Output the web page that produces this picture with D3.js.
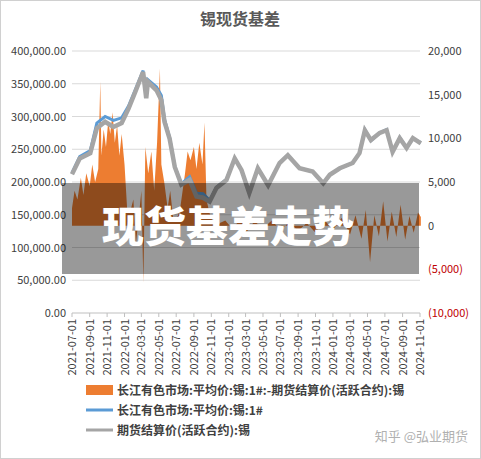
<!DOCTYPE html>
<html><head><meta charset="utf-8">
<script src="https://cdn.jsdelivr.net/npm/d3@7"></script>
<style>body{margin:0;background:#fff;font-family:"Noto Sans CJK SC",sans-serif}</style>
</head><body><svg id="chart"></svg>
<script>
const width = 481, height = 459;
const margin = { top: 51, right: 61, bottom: 146, left: 72 };

// futures settlement price (left axis)
const futDates = ['2021-07-01','2021-07-28','2021-09-03','2021-09-26','2021-10-25','2021-11-23','2021-12-22','2022-01-15','2022-02-08','2022-03-07','2022-03-18','2022-03-24','2022-04-23','2022-05-10','2022-05-21','2022-06-08','2022-06-26','2022-07-19','2022-08-17','2022-09-10','2022-10-03','2022-10-26','2022-11-19','2022-12-24','2023-01-22','2023-02-15','2023-03-14','2023-04-13','2023-05-19','2023-06-28','2023-07-27','2023-09-06','2023-10-22','2023-11-28','2023-12-21','2024-01-25','2024-03-10','2024-04-03','2024-04-22','2024-05-13','2024-06-13','2024-07-07','2024-07-28','2024-08-22','2024-09-15','2024-10-07','2024-11-04'];
const futValues = [212000,236000,244000,282000,292000,284000,290000,312000,338000,368000,328000,353000,340000,325000,292000,266000,223000,196000,203000,178000,176000,170000,191000,203000,236000,218000,183000,221000,195000,229000,241000,221000,216000,198000,211000,221000,229000,244000,279000,264000,275000,279000,246000,267000,252000,267000,259000];
// spot price (left axis)
const spotValues = [214000,239000,248000,290000,300000,294000,298000,316000,341000,370000,330000,356000,345000,332000,296000,268000,224000,197000,208000,183000,182000,172000,192000,204000,236000,218000,183000,221000,195000,229000,241000,221000,216000,198000,211000,221000,229000,244000,280000,263000,275000,280000,246000,268000,252000,266000,260000];

// basis = spot - futures (right axis)
const basisDates = ['2021-07-01','2021-07-10','2021-07-20','2021-08-01','2021-08-10','2021-08-20','2021-09-01','2021-09-10','2021-09-20','2021-10-01','2021-10-08','2021-10-12','2021-10-20','2021-10-28','2021-11-05','2021-11-12','2021-11-20','2021-11-28','2021-12-06','2021-12-14','2021-12-22','2022-01-01','2022-01-10','2022-01-20','2022-02-01','2022-02-10','2022-02-20','2022-03-01','2022-03-08','2022-03-15','2022-03-25','2022-04-05','2022-04-15','2022-04-25','2022-05-05','2022-05-10','2022-05-20','2022-06-01','2022-06-10','2022-06-20','2022-07-01','2022-07-15','2022-08-01','2022-08-10','2022-08-20','2022-09-01','2022-09-10','2022-09-20','2022-10-01','2022-10-08','2022-10-15','2022-10-25','2022-11-05','2022-11-20','2022-12-01','2022-12-20','2023-01-15','2023-02-10','2023-03-05','2023-04-01','2023-05-01','2023-06-01','2023-07-01','2023-08-01','2023-09-01','2023-10-01','2023-11-01','2023-12-01','2024-01-01','2024-02-01','2024-03-01','2024-03-20','2024-04-10','2024-04-25','2024-05-10','2024-05-25','2024-06-10','2024-06-25','2024-07-10','2024-07-25','2024-08-10','2024-08-25','2024-09-10','2024-09-25','2024-10-10','2024-10-25','2024-11-04'];
const basisValues = [2000,4000,3000,5500,3500,6000,4500,7000,5000,6500,16500,8000,11000,9000,12000,10500,13000,9500,11500,8000,10500,7000,2000,1500,3000,-2000,1000,4000,-6500,9000,6000,8500,4000,9500,18000,7000,5000,2000,4000,1000,500,2000,6000,8500,7500,9000,6500,9500,7000,11800,3000,1500,500,-500,300,600,-400,800,-700,500,-300,600,-500,400,-600,300,-800,700,-500,900,-1000,1200,-1500,1800,-4200,1200,-1200,2800,-1800,1600,-1300,2400,-1600,1100,-800,1500,1000];

const xTicks = ['2021-07-01','2021-09-01','2021-11-01','2022-01-01','2022-03-01','2022-05-01','2022-07-01','2022-09-01','2022-11-01','2023-01-01','2023-03-01','2023-05-01','2023-07-01','2023-09-01','2023-11-01','2024-01-01','2024-03-01','2024-05-01','2024-07-01','2024-09-01','2024-11-01'];
const leftTicks = [0,50000,100000,150000,200000,250000,300000,350000,400000];
const rightTicks = [-10000,-5000,0,5000,10000,15000,20000];
const legendLabels = ['长江有色市场:平均价:锡:1#:-期货结算价(活跃合约):锡','长江有色市场:平均价:锡:1#','期货结算价(活跃合约):锡'];

const parse = d3.timeParse('%Y-%m-%d');
const svg = d3.select('#chart').attr('width', width).attr('height', height);

svg.append('rect').attr('x',0.5).attr('y',0.5).attr('width',width-1).attr('height',height-1)
    .attr('fill','#fff').attr('stroke','#d0d0d0');

const x = d3.scaleTime().domain([parse('2021-07-01'), parse('2024-11-01')]).range([margin.left, width - margin.right]);
const yL = d3.scaleLinear().domain([0, 400000]).range([height - margin.bottom, margin.top]);
const yR = d3.scaleLinear().domain([-10000, 20000]).range([height - margin.bottom, margin.top]);

svg.append('text').attr('x', 240).attr('y', 25).attr('text-anchor','middle')
    .style('font-size','16px').style('font-weight','bold').style('fill','#595959').text('锡现货基差');

// grid
svg.append('g').selectAll('line').data(leftTicks.slice(1)).join('line')
    .attr('x1', margin.left).attr('x2', width - margin.right)
    .attr('y1', d => yL(d)).attr('y2', d => yL(d)).attr('stroke','#d9d9d9');

const fmtL = d3.format(',.2f');
svg.append('g').selectAll('text').data(leftTicks).join('text')
    .attr('x', 66).attr('y', d => yL(d) + 4).attr('text-anchor','end')
    .style('font-size','11px').style('fill','#404040').text(d => fmtL(d));

const fmtR = d3.format(',');
svg.append('g').selectAll('text').data(rightTicks).join('text')
    .attr('x', 428).attr('y', d => yR(d) + 4)
    .style('font-size','11px').style('fill', d => d < 0 ? '#c00000' : '#404040')
    .text(d => d < 0 ? `(${fmtR(-d)})` : fmtR(d));

// x axis
const xa = svg.append('g');
xa.append('line').attr('x1', margin.left).attr('x2', width - margin.right)
    .attr('y1', yL(0)).attr('y2', yL(0)).attr('stroke','#bfbfbf');
xa.selectAll('line.t').data(xTicks).join('line').attr('class','t')
    .attr('x1', d => x(parse(d))).attr('x2', d => x(parse(d)))
    .attr('y1', yL(0)).attr('y2', yL(0) + 4).attr('stroke','#bfbfbf');
xa.selectAll('text').data(xTicks).join('text')
    .attr('transform', d => `translate(${x(parse(d)) + 4},${yL(0) + 6}) rotate(-90)`)
    .attr('text-anchor','end').style('font-size','11px').style('fill','#404040').text(d => d);

// basis area
const basis = basisDates.map((d, i) => ({ date: parse(d), v: basisValues[i] }));
svg.append('path').datum(basis).attr('fill','#ED7D31')
    .attr('d', d3.area().x(d => x(d.date)).y0(yR(0)).y1(d => yR(d.v)));

const fut = futDates.map((d, i) => ({ date: parse(d), f: futValues[i], s: spotValues[i] }));
svg.append('path').datum(fut).attr('fill','none').attr('stroke','#5B9BD5').attr('stroke-width',3)
    .attr('d', d3.line().x(d => x(d.date)).y(d => yL(d.s)));
svg.append('path').datum(fut).attr('fill','none').attr('stroke','#A5A5A5').attr('stroke-width',4.5)
    .attr('d', d3.line().x(d => x(d.date)).y(d => yL(d.f)));

// overlay block
svg.append('rect').attr('x', 62).attr('y', 183).attr('width', 357).attr('height', 91)
    .attr('fill','#000').attr('opacity',0.4);
svg.append('text').attr('x', 228).attr('y', 242).attr('text-anchor','middle')
    .style('font-size','42px').style('font-weight','900').style('fill','#fff').text('现货基差走势');

// legend
const lg = svg.append('g');
legendLabels.forEach((t, i) => {
    const yy = 390 + i * 20;
    if (i === 0) lg.append('rect').attr('x', 86).attr('y', yy - 5).attr('width', 27).attr('height', 10).attr('fill','#ED7D31');
    else lg.append('line').attr('x1', 86).attr('x2', 113).attr('y1', yy).attr('y2', yy)
        .attr('stroke', i === 1 ? '#5B9BD5' : '#A5A5A5').attr('stroke-width', 3);
    lg.append('text').attr('x', 117).attr('y', yy + 5).style('font-size','12px').style('font-weight','bold')
        .style('fill','#404040').text(t);
});

svg.append('text').attr('x', 468).attr('y', 441).attr('text-anchor','end')
    .style('font-size','13px').style('fill','#b0b0b0').text('知乎 @弘业期货');
</script></body></html>
